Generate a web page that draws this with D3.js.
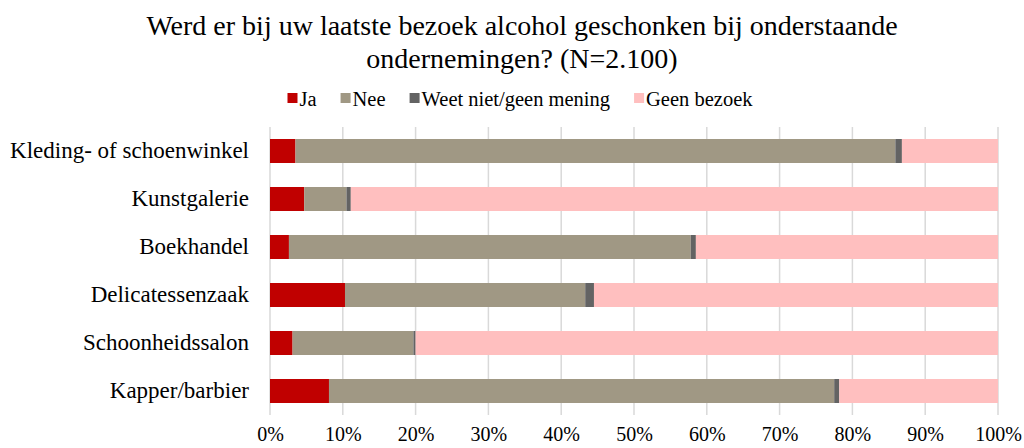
<!DOCTYPE html>
<html>
<head>
<meta charset="utf-8">
<script src="https://cdn.jsdelivr.net/npm/d3@7"></script>
<style>
  body { margin: 0; background: #fff; }
</style>
</head>
<body>
<div class="chart"></div>
<script>
var categories = ['Kleding- of schoenwinkel', 'Kunstgalerie', 'Boekhandel',
                  'Delicatessenzaak', 'Schoonheidssalon', 'Kapper/barbier'];
var seriesNames = ['Ja', 'Nee', 'Weet niet/geen mening', 'Geen bezoek'];
var ja = [3.5, 4.7, 2.6, 10.3, 3.1, 8.1];
var nee = [82.4, 5.8, 55.2, 33.0, 16.6, 69.4];
var weetNiet = [0.9, 0.6, 0.7, 1.2, 0.3, 0.7];
var geenBezoek = [13.2, 88.9, 41.5, 55.5, 80.0, 21.8];
var tickValues = [0, 10, 20, 30, 40, 50, 60, 70, 80, 90, 100];
var titleLines = ['Werd er bij uw laatste bezoek alcohol geschonken bij onderstaande',
                  'ondernemingen? (N=2.100)'];

var width = 1024,
    height = 448,
    serif = "'Liberation Serif', serif",
    colors = ['#c00000', '#a09884', '#636363', '#ffbfbf'];

var margin = {top: 127, right: 26, bottom: 33, left: 270};

var svg = d3.select('.chart').append('svg')
  .attr('width', width)
  .attr('height', height)
  .attr('font-family', serif);

// title
svg.append('g').attr('class', 'title')
  .selectAll('text')
  .data(titleLines)
  .enter().append('text')
    .attr('x', 522)
    .attr('y', function(d, i) { return 35 + i * 33; })
    .attr('text-anchor', 'middle')
    .style('font-family', serif)
    .style('font-size', '28px')
    .text(function(d) { return d; });

// stack the series per category
var rows = categories.map(function(c, i) {
  return {category: c, 0: ja[i], 1: nee[i], 2: weetNiet[i], 3: geenBezoek[i]};
});
var stacked = d3.stack().keys([0, 1, 2, 3])(rows);

var x = d3.scaleLinear()
  .domain([0, 100])
  .range([margin.left, width - margin.right]);

var y = d3.scaleBand()
  .domain(categories)
  .range([margin.top, height - margin.bottom])
  .paddingInner(0.5)
  .paddingOuter(0.25);

// gridlines
svg.append('g').attr('class', 'grid')
  .selectAll('line')
  .data(tickValues)
  .enter().append('line')
    .attr('x1', function(d) { return x(d); })
    .attr('x2', function(d) { return x(d); })
    .attr('y1', margin.top)
    .attr('y2', height - margin.bottom)
    .attr('stroke', '#d9d9d9')
    .attr('stroke-width', 1.5);

// bars
svg.append('g').attr('class', 'bars')
  .selectAll('g')
  .data(stacked)
  .enter().append('g')
    .attr('fill', function(d, i) { return colors[i]; })
  .selectAll('rect')
  .data(function(d) { return d; })
  .enter().append('rect')
    .attr('x', function(d) { return x(d[0]); })
    .attr('width', function(d) { return x(d[1]) - x(d[0]); })
    .attr('y', function(d) { return y(d.data.category); })
    .attr('height', y.bandwidth());

// x axis tick labels
var xAxis = d3.axisBottom(x)
  .tickValues(tickValues)
  .tickSize(0)
  .tickPadding(0)
  .tickFormat(function(d) { return d + '%'; });

var gx = svg.append('g')
  .attr('transform', 'translate(0,' + (height - 21) + ')')
  .call(xAxis)
  .attr('font-family', serif);
gx.select('.domain').remove();
gx.selectAll('text')
  .attr('fill', '#000')
  .style('font-size', '20px')
  .style('font-family', serif);

// category labels
var yAxis = d3.axisLeft(y).tickSize(0).tickPadding(0);
var gy = svg.append('g')
  .attr('transform', 'translate(' + (margin.left - 21) + ',0)')
  .call(yAxis)
  .attr('font-family', serif);
gy.select('.domain').remove();
gy.selectAll('text')
  .attr('fill', '#000')
  .style('font-size', '23px')
  .style('font-family', serif);

// legend
var legend = svg.append('g').attr('class', 'legend');
var items = legend.selectAll('g')
  .data(seriesNames)
  .enter().append('g');
items.append('rect')
  .attr('width', 10)
  .attr('height', 10)
  .attr('y', -13)
  .attr('fill', function(d, i) { return colors[i]; });
items.append('text')
  .attr('x', 12)
  .attr('y', 0)
  .style('font-family', serif)
  .style('font-size', '20.5px')
  .text(function(d) { return d; });

var offset = 0;
items.each(function() {
  var g = d3.select(this);
  g.attr('transform', 'translate(' + offset + ',0)');
  offset += 12 + g.select('text').node().getComputedTextLength() + 24;
});
offset -= 24;
legend.attr('transform', 'translate(' + (520 - offset / 2) + ',106)');
</script>
</body>
</html>
